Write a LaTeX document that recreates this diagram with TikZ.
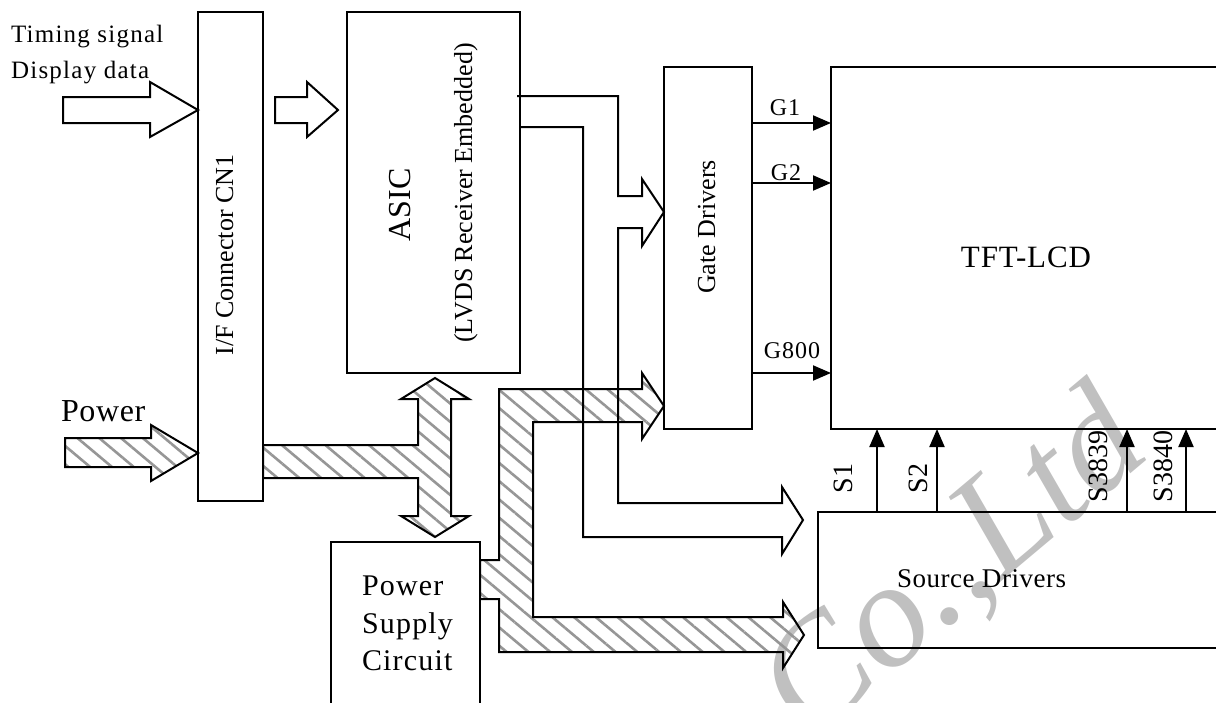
\documentclass[tikz,border=0pt]{standalone}
\usepackage{fontspec}
\setmainfont{Liberation Serif}
\newfontfamily\fA{Liberation Serif}[LetterSpace=5]
\newfontfamily\fB{Liberation Serif}[LetterSpace=4]
\newfontfamily\fC{Liberation Serif}[LetterSpace=3]
\newfontfamily\fD{Liberation Serif}[LetterSpace=2]
\usetikzlibrary{patterns.meta,arrows.meta}
\definecolor{hatchgray}{RGB}{150,150,150}
\definecolor{wm}{RGB}{192,192,192}
\tikzset{
  box/.style={draw, line width=2pt, inner sep=0pt, outer sep=0pt, anchor=north west},
  ln/.style={line width=2pt, line join=miter},
  hatch/.style={line width=2pt, line join=miter, pattern={Lines[angle=-40,distance=14pt,line width=2.6pt]}, pattern color=hatchgray},
  sig/.style={line width=2pt, -{Triangle[length=18pt,width=15pt]}},
  lbl/.style={inner sep=0pt, outer sep=0pt},
}
\begin{document}
\begin{tikzpicture}[x=1pt,y=-1pt]
\useasboundingbox (0,0) rectangle (1216,702);
\clip (0,0) rectangle (1216,702);
% watermark
\node[lbl, rotate=40, text=wm, font=\fontsize{150}{150}\selectfont\itshape] (wmark) at (955,568) {Co.,Ltd};

% boxes
\node[box, minimum width=65pt, minimum height=489pt] (cn) at (198,12) {};
\node[box, minimum width=173pt, minimum height=361pt] (asic) at (347,12) {};
\node[box, minimum width=88pt, minimum height=362pt] (gate) at (664,67) {};
\node[box, minimum width=400pt, minimum height=362pt] (tft) at (831,67) {};
\node[box, minimum width=410pt, minimum height=136pt] (src) at (818,512) {};
\node[box, minimum width=149pt, minimum height=180pt] (psc) at (331,542) {};

% texts
\node[lbl, anchor=base west, font=\fA\fontsize{25}{29}\selectfont] (t1) at (11,42) {Timing signal};
\node[lbl, anchor=base west, font=\fA\fontsize{25}{29}\selectfont] (t2) at (11,78) {Display data};
\node[lbl, anchor=base west, font=\fD\fontsize{32}{36}\selectfont] (pw) at (61,421) {Power};
\node[lbl, rotate=90, anchor=base, font=\fontsize{26}{30}\selectfont] (cnl) at (233,255) {I/F Connector CN1};
\node[lbl, rotate=90, anchor=base, font=\fontsize{32}{36}\selectfont] (asl) at (410,205) {ASIC};
\node[lbl, rotate=90, anchor=base, font=\fontsize{26}{30}\selectfont] (lvl) at (472,193) {(LVDS Receiver Embedded)};
\node[lbl, rotate=90, anchor=base, font=\fontsize{26}{30}\selectfont] (gdl) at (715,227) {Gate Drivers};
\node[lbl, anchor=base, font=\fC\fontsize{31}{35}\selectfont] (tftl) at (1026,267) {TFT-LCD};
\node[lbl, anchor=base west, font=\fD\fontsize{27}{31}\selectfont] (srcl) at (897,587) {Source Drivers};
\node[lbl, anchor=base west, font=\fB\fontsize{30}{34}\selectfont] (ps1) at (362,595) {Power};
\node[lbl, anchor=base west, font=\fB\fontsize{30}{34}\selectfont] (ps2) at (362,633) {Supply};
\node[lbl, anchor=base west, font=\fB\fontsize{30}{34}\selectfont] (ps3) at (362,670) {Circuit};

% hollow arrows (timing / data)
\draw[ln] (63,97) -- (150,97) -- (150,82) -- (cn.west |- 0,110) -- (150,137) -- (150,123) -- (63,123) -- cycle;
\draw[ln] (275,97) -- (307,97) -- (307,82) -- (338,110) -- (307,137) -- (307,123) -- (275,123) -- cycle;

% hatched power buses
\draw[hatch] (65,438) -- (151,438) -- (151,425) -- (cn.west |- 0,453) -- (151,481) -- (151,467) -- (65,467) -- cycle;
\draw[hatch] (263,445) -- (418,445) -- (418,399) -- (401,399) -- (435,378) -- (469,399) -- (451,399)
  -- (451,516) -- (469,516) -- (435,537) -- (401,516) -- (418,516) -- (418,478) -- (263,478) -- cycle;
\draw[hatch] (480,560) -- (499,560) -- (499,389) -- (642,389) -- (642,373) -- (gate.west |- 0,406) -- (642,439)
  -- (642,422) -- (533,422) -- (533,617) -- (783,617) -- (783,602) -- (804,635) -- (783,668) -- (783,652)
  -- (499,652) -- (499,599) -- (480,599) -- cycle;

% hollow bus from ASIC to gate and source drivers
\draw[ln] (517,96) -- (618,96) -- (618,196) -- (642,196) -- (642,179) -- (gate.west |- 0,212) -- (642,246) -- (642,228)
  -- (618,228) -- (618,503) -- (782,503) -- (782,487) -- (803,520) -- (782,554) -- (782,537)
  -- (583,537) -- (583,127) -- (asic.east |- 0,127);

% gate lines
\coordinate (yg1) at (0,123);
\coordinate (yg2) at (0,183);
\coordinate (yg3) at (0,373);
\draw[sig] (gate.east |- yg1) -- (tft.west |- yg1);
\draw[sig] (gate.east |- yg2) -- (tft.west |- yg2);
\draw[sig] (gate.east |- yg3) -- (tft.west |- yg3);
\node[lbl, anchor=base, font=\fB\fontsize{24}{28}\selectfont] (g1) at (785,115) {G1};
\node[lbl, anchor=base, font=\fB\fontsize{24}{28}\selectfont] (g2) at (786,180) {G2};
\node[lbl, anchor=base, font=\fB\fontsize{24}{28}\selectfont] (g800) at (792,358) {G800};

% source lines
\coordinate (xs1) at (877,0);
\coordinate (xs2) at (937,0);
\coordinate (xs3) at (1127,0);
\coordinate (xs4) at (1186,0);
\draw[sig] (src.north -| xs1) -- (tft.south -| xs1);
\draw[sig] (src.north -| xs2) -- (tft.south -| xs2);
\draw[sig] (src.north -| xs3) -- (tft.south -| xs3);
\draw[sig] (src.north -| xs4) -- (tft.south -| xs4);
\node[lbl, rotate=90, anchor=base west, font=\fontsize{28}{32}\selectfont] (s1) at (852,493) {S1};
\node[lbl, rotate=90, anchor=base west, font=\fontsize{28}{32}\selectfont] (s2) at (927,493) {S2};
\node[lbl, rotate=90, anchor=base west, font=\fontsize{28}{32}\selectfont] (s3) at (1107,502) {S3839};
\node[lbl, rotate=90, anchor=base west, font=\fontsize{28}{32}\selectfont] (s4) at (1172,502) {S3840};
\end{tikzpicture}
\end{document}
